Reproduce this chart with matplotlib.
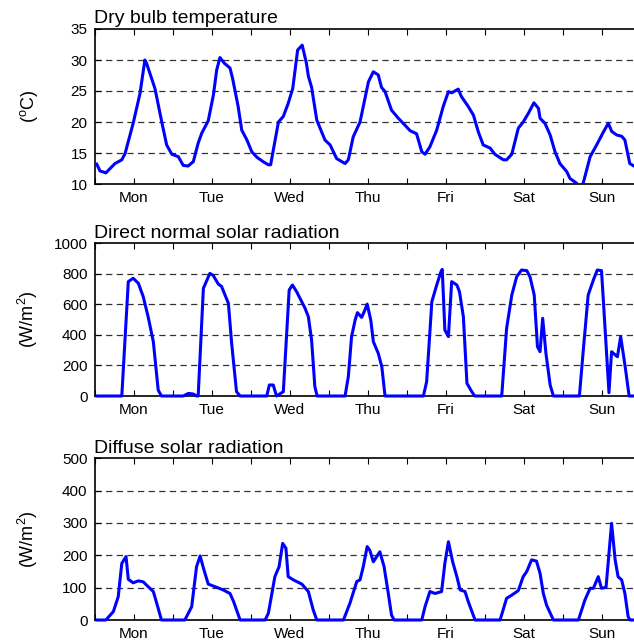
#!/usr/bin/env python3
"""Weekly weather plot: dry bulb temperature, direct normal and diffuse radiation."""

import matplotlib

matplotlib.use('Agg')
import matplotlib.pyplot as plt

plt.rcParams['font.family'] = ['Liberation Sans', 'DejaVu Sans']
plt.rcParams['mathtext.fontset'] = 'custom'
plt.rcParams['mathtext.rm'] = 'Liberation Sans'

DAYS = ['Mon', 'Tue', 'Wed', 'Thu', 'Fri', 'Sat', 'Sun']

# hour of week
temp_hours = [0.7, 1.7, 3.5, 6.3, 8.4, 9.4, 11.9, 14, 15.5, 16,
              18.6, 20.7, 22.2, 23.8, 25.8, 27.3, 28.8, 30.4, 31.9, 33,
              35, 36.6, 37.6, 38.6, 39.9, 41.7, 42.5, 44.2, 45.3, 46.9,
              48.4, 50, 51.9, 53.5, 54.2, 55.2, 56.6, 58.1, 59.6, 61,
              62.5, 63.9, 65.2, 65.8, 66.8, 68.4, 70.9, 72.5, 74.5, 77.1,
              78.1, 79.6, 81.7, 84.3, 85.8, 87.3, 88.3, 89.4, 91.4, 93.5,
              95.5, 97.1, 99.1, 100.7, 101.7, 103.2, 105.3, 107.3, 108.9, 109.9,
              111.9, 112.9, 115, 116.6, 118.1, 119.6, 121.7, 123.2, 125.8, 126.8,
              128.4, 130.4, 131.9, 133.5, 135.2, 136.6, 137.1, 138.6, 140.2, 141.7,
              143.2, 145.3, 146.3, 148.4, 149.5, 150.4, 152.5, 154.5, 156.6, 158.1,
              159.1, 160.7, 162.2, 163.2, 164.7, 166.3, 168]
temp_vals = [13.2, 12.1, 11.8, 13.3, 13.9, 14.9, 19.8, 24.6, 30, 29.5,
             25.4, 20, 16.3, 14.8, 14.4, 13, 12.9, 13.6, 16.6, 18.2,
             20.2, 24.4, 28.4, 30.4, 29.5, 28.7, 27, 22.5, 18.7, 17.1,
             15.2, 14.3, 13.6, 13.1, 13.1, 16, 20, 20.9, 23, 25.4,
             31.6, 32.4, 29.5, 27.4, 25.6, 20.3, 17.1, 16.3, 14.1, 13.3,
             13.9, 17.6, 20, 26.5, 28.1, 27.6, 25.6, 24.9, 21.9, 20.6,
             19.5, 18.6, 18.1, 15.2, 14.8, 16, 18.7, 22.5, 24.9, 24.7,
             25.3, 24.1, 22.5, 21.1, 18.4, 16.3, 15.8, 14.8, 13.9, 13.9,
             14.8, 19, 20, 21.4, 23.1, 22.2, 20.6, 19.8, 17.9, 15.2,
             13.3, 12, 10.9, 10.1, 9.3, 10.2, 14.4, 16.3, 18.4, 19.8,
             18.5, 17.9, 17.7, 17.1, 13.3, 12.8, 12.6]

dni_hours = [0.7, 8.4, 10.4, 11.9, 13.5, 15, 16.5, 18.1, 19.6, 20.6,
             27.3, 28.9, 30.4, 31.4, 31.9, 33.5, 35.5, 36.5, 38.1, 39.1,
             41.2, 42.2, 43.7, 44.8, 53, 53.8, 55, 56, 58.1, 59.9,
             60.9, 62.2, 64.8, 65.8, 66.8, 67.8, 68.5, 77.1, 78.1, 79.1,
             80.2, 80.9, 82.2, 83.2, 83.9, 85, 85.8, 87.3, 88.4, 89.4,
             101.2, 102.2, 103.8, 105.3, 106.6, 107, 107.8, 108.9, 109.9, 111.5,
             112.3, 113.5, 114.6, 116.1, 117, 125.3, 126.8, 128.4, 129.9, 131.4,
             133, 134, 135.3, 136.3, 137.1, 137.9, 138.9, 140.2, 141.2, 149.2,
             150.4, 151.9, 153.5, 154.7, 156, 156.5, 158.3, 159.1, 160.9, 161.9,
             163.3, 164.5, 168]
dni_vals = [0, 0, 749, 771, 738, 650, 519, 356, 39, 0,
            0, 17, 13, 0, 0, 705, 803, 790, 733, 717,
            607, 345, 28, 0, 0, 72, 72, 0, 28, 694,
            727, 683, 574, 519, 367, 61, 0, 0, 127, 389,
            498, 546, 515, 563, 602, 498, 356, 280, 192, 0,
            0, 94, 618, 727, 814, 829, 432, 389, 749, 727,
            683, 519, 83, 28, 0, 0, 443, 661, 781, 825,
            821, 781, 661, 323, 290, 509, 280, 72, 0, 0,
            301, 661, 760, 825, 821, 650, 22, 290, 257, 389,
            190, 0, 0]

dif_hours = [0.7, 3.5, 5.8, 7.3, 8.4, 9.7, 10.4, 11.9, 13.5, 15, 16, 18.1, 19.6, 20.6,
             27.8, 29.9, 31.4, 32.5, 33.5, 35, 37.6, 39.6, 41.7, 42.8, 44.8,
             52.5, 53.5, 55.5, 56.8, 57.9, 58.9, 59.6, 61.2, 63.8, 65.8, 67.3, 68.4,
             76.6, 78.6, 80.7, 81.7, 82.7, 83.9, 84.7, 85.8, 87.8, 89.1, 90.4, 91.4, 92.2,
             100.7, 101.7, 103.2, 104.8, 106.8, 107.8, 108.9, 110.2, 111.5, 112.5, 114, 115, 117.1,
             124.8, 126.8, 128.4, 130.4, 131.9, 133, 134.5, 136, 137.1, 138.1, 139.1, 141.2,
             148.9, 150.9, 152.5, 153.5, 155, 156, 157.4, 159.1, 160.2, 161.1, 162.2, 163.2,
             164.2, 164.8, 168]
dif_vals = [0, 0, 26, 72, 175, 196, 126, 115, 121, 118, 108, 88, 36, 0,
            0, 41, 165, 198, 161, 111, 101, 93, 82, 57, 0,
            0, 21, 134, 165, 237, 222, 134, 124, 111, 88, 31, 0,
            0, 52, 119, 124, 165, 227, 216, 180, 211, 165, 82, 15, 0,
            0, 41, 88, 82, 88, 175, 242, 180, 134, 93, 88, 57, 0,
            0, 67, 77, 91, 134, 150, 186, 182, 144, 82, 46, 0,
            0, 62, 98, 98, 134, 98, 101, 299, 186, 134, 124, 82,
            10, 0, 0]

W, H = 634, 643
fig = plt.figure(figsize=(W / 100, H / 100), dpi=100)


def panel(top, bottom, hours, vals, ylim, step, title, ylabel, clip):
    ax = fig.add_axes([94.5 / W, 1 - bottom / H, 546 / W, (bottom - top) / H])
    ax.plot(hours, vals, color='#0000ff', lw=2.2, solid_joinstyle='round',
            clip_on=clip, zorder=3)
    ax.set_xlim(0, 168)
    ax.set_ylim(*ylim)
    yt = list(range(ylim[0], ylim[1] + 1, step))
    ax.set_yticks(yt)
    for v in yt[1:-1]:
        ax.axhline(v, color='0.2', lw=0.9, ls=(0, (5, 3.5)), zorder=1)
    ax.set_xticks([12 + 24 * i for i in range(7)])
    ax.set_xticklabels(DAYS)
    ax.set_xticks(list(range(0, 169, 24)), minor=True)
    ax.tick_params(which='both', direction='in', top=True, right=True,
                   length=4, width=0.8, labelsize=11, pad=5)
    for s in ax.spines.values():
        s.set_linewidth(1.2)
    ax.set_title(title, loc='left', fontsize=14, pad=4)
    ax.set_ylabel(ylabel, fontsize=13)
    ax.yaxis.set_label_coords(-0.1, 0.5)
    return ax


panel(29, 184, temp_hours, temp_vals, (10, 35), 5,
      'Dry bulb temperature', r'($^{\mathrm{o}}$C)', True)
panel(243.3, 396, dni_hours, dni_vals, (0, 1000), 200,
      'Direct normal solar radiation', r'(W/m$^{2}$)', False)
panel(458.3, 620, dif_hours, dif_vals, (0, 500), 100,
      'Diffuse solar radiation', r'(W/m$^{2}$)', False)

fig.savefig('out.png', dpi=100)
